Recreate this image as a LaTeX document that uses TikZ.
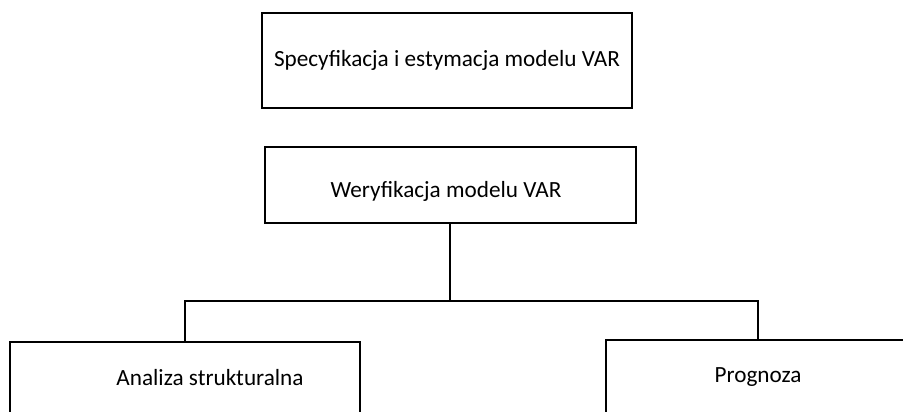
\documentclass[tikz,border=0pt]{standalone}
\usepackage{fontspec}
\setmainfont{Carlito}
\begin{document}
\begin{tikzpicture}[x=0.75pt,y=-0.75pt,
  txt/.style={font=\fontsize{17.4}{20}\selectfont},
  box/.style={draw,line width=1.5pt,inner sep=0pt,txt},
  conn/.style={line width=1.5pt}]
\useasboundingbox (0,0) rectangle (903,411);
\clip (0,0) rectangle (903,411);
\node[box,minimum width=277.5pt,minimum height=71.25pt] (s) at (447,60.5) {Specyfikacja i estymacja modelu VAR};
\node[box,minimum width=278.25pt,minimum height=57pt] (w) at (450,185) {};
\node[txt] (wt) at (446,191) {Weryfikacja modelu VAR};
\node[box,minimum width=262.5pt,minimum height=54pt] (a) at (185,378) {};
\node[txt] (at) at (210,378) {Analiza strukturalna};
\node[box,minimum width=228pt,minimum height=55.5pt] (p) at (758,377) {Prognoza};
\coordinate (j) at (450,301);
\draw[conn] (w.south) -- (j);
\draw[conn] (j) -| (a.north);
\draw[conn] (j) -| (p.north);
\end{tikzpicture}
\end{document}
